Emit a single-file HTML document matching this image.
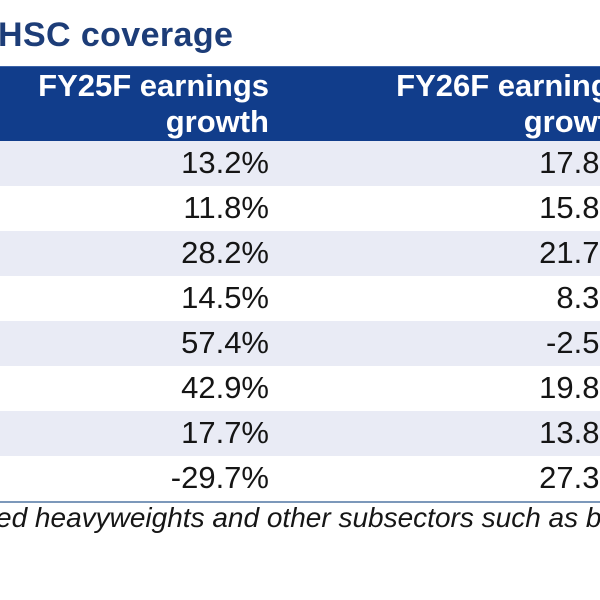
<!DOCTYPE html>
<html>
<head>
<meta charset="utf-8">
<style>
  html, body { margin:0; padding:0; }
  body { width:600px; height:600px; overflow:hidden; position:relative; background:#ffffff; font-family:"Liberation Sans", Arial, sans-serif; }
  .wrap { position:absolute; left:0; top:0; width:600px; height:600px; overflow:hidden; }
  .title { position:absolute; left:-2px; top:18px; font-size:34px; line-height:34px; font-weight:bold; color:#1d3d78; white-space:nowrap; letter-spacing:0.4px; }
  .hdr { position:absolute; left:0; top:66px; width:600px; height:75px; background:#113d8b; border-top:1px solid #3c63a8; box-sizing:border-box; }
  .htxt { position:absolute; top:68px; font-size:31px; line-height:36px; font-weight:bold; color:#ffffff; text-align:right; white-space:nowrap; }
  .row { position:absolute; left:0; width:600px; height:45px; }
  .shade { background:#e9ebf5; }
  .cell { position:absolute; font-size:31px; line-height:45px; color:#151515; text-align:right; white-space:nowrap; }
  .bline { position:absolute; left:0; top:501px; width:600px; height:2px; background:#7c98ba; }
  .foot { position:absolute; left:-4px; top:504px; font-size:28px; line-height:28px; font-style:italic; color:#161616; white-space:nowrap; }
</style>
</head>
<body>
<div class="wrap">
  <div class="title">HSC coverage</div>

  <div class="hdr"></div>
  <div class="htxt" style="right:331px;">FY25F earnings<br>growth</div>
  <div class="htxt" style="right:-27px;">FY26F earnings<br>growth</div>

  <div class="row shade" style="top:141px;"></div>
  <div class="row" style="top:186px;"></div>
  <div class="row shade" style="top:231px;"></div>
  <div class="row" style="top:276px;"></div>
  <div class="row shade" style="top:321px;"></div>
  <div class="row" style="top:366px;"></div>
  <div class="row shade" style="top:411px;"></div>
  <div class="row" style="top:456px;"></div>

  <div class="cell" style="top:140px; right:331px;">13.2%</div>
  <div class="cell" style="top:185px; right:331px;">11.8%</div>
  <div class="cell" style="top:230px; right:331px;">28.2%</div>
  <div class="cell" style="top:275px; right:331px;">14.5%</div>
  <div class="cell" style="top:320px; right:331px;">57.4%</div>
  <div class="cell" style="top:365px; right:331px;">42.9%</div>
  <div class="cell" style="top:410px; right:331px;">17.7%</div>
  <div class="cell" style="top:455px; right:331px;">-29.7%</div>

  <div class="cell" style="top:140px; right:-27px;">17.8%</div>
  <div class="cell" style="top:185px; right:-27px;">15.8%</div>
  <div class="cell" style="top:230px; right:-27px;">21.7%</div>
  <div class="cell" style="top:275px; right:-27px;">8.3%</div>
  <div class="cell" style="top:320px; right:-27px;">-2.5%</div>
  <div class="cell" style="top:365px; right:-27px;">19.8%</div>
  <div class="cell" style="top:410px; right:-27px;">13.8%</div>
  <div class="cell" style="top:455px; right:-27px;">27.3%</div>

  <div class="bline"></div>
  <div class="foot">ed heavyweights and other subsectors such as banks</div>
</div>
</body>
</html>
